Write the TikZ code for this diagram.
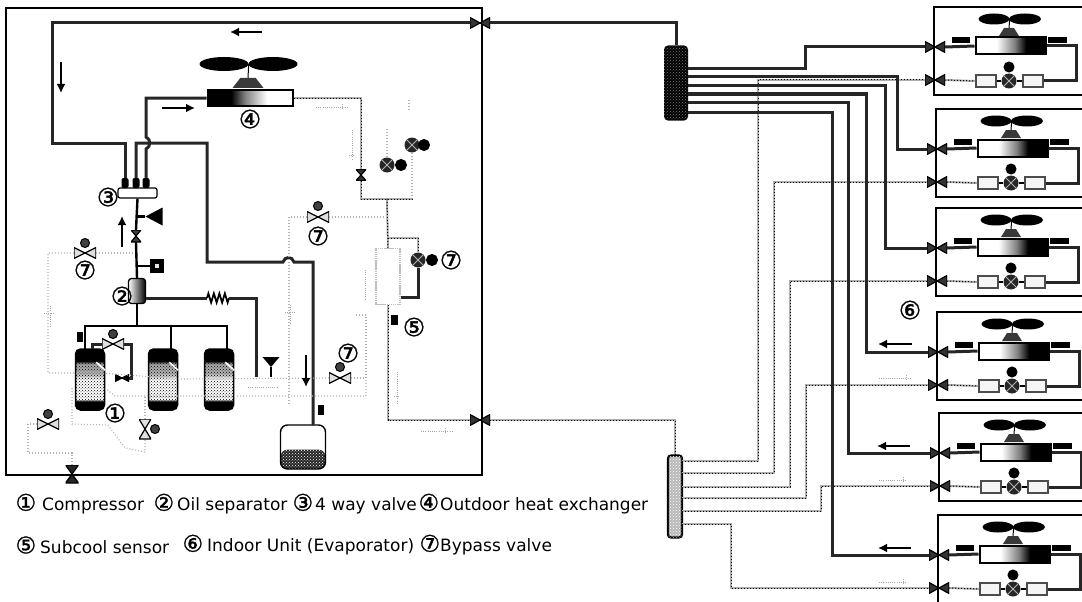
\documentclass[tikz,border=0pt]{standalone}
\usepackage{fontspec}
\setmainfont{DejaVu Sans}
\newfontfamily\cnumfont[FakeBold=1.2]{DejaVu Sans}
\usepackage{xcolor}
\usepackage{tikz}
\usetikzlibrary{positioning, calc, arrows.meta, shapes.geometric, patterns, decorations.pathmorphing}
\pgfdeclarehorizontalshading{hxshade}{100bp}{color(0bp)=(black); color(39bp)=(black); color(47bp)=(gray); color(60bp)=(white); color(100bp)=(white)}
\pgfdeclareverticalshading{compshade}{100bp}{color(0bp)=(black); color(32bp)=(black); color(34bp)=(white); color(50bp)=(white); color(55bp)=(gray!60); color(63bp)=(gray!70); color(65bp)=(black); color(100bp)=(black)}
\newcommand{\legnum}[2]{\llap{{\cnumfont\fontsize{23}{17}\selectfont #1}\hspace{#2}}}
\tikzset{
  gaspipe/.style={draw=black!85, line width=3pt},
  liqpipe/.style={draw=gray!65, line width=2pt, postaction={draw=black, line width=1pt, dash pattern=on 1pt off 2pt}},
  ltpipe/.style={draw=gray!60, line width=1.1pt, dash pattern=on 1pt off 2pt},
  flowarrow/.style={-{Latex[length=9pt,width=9pt]}, draw=black, line width=2pt},
  ghostflow/.style={draw=gray!70, line width=0.9pt, dash pattern=on 1pt off 1.2pt},
  bowtie/.style={minimum width=20, minimum height=11, inner sep=0, path picture={
    \filldraw[draw=black, line width=1.2pt, fill=#1] (path picture bounding box.south west) -- (path picture bounding box.north east) -- (path picture bounding box.south east) -- (path picture bounding box.north west) -- cycle;}},
  hourglass/.style={inner sep=0, path picture={
    \filldraw[draw=black, line width=1.2pt, fill=#1] (path picture bounding box.south west) -- (path picture bounding box.south east) -- (path picture bounding box.north west) -- (path picture bounding box.north east) -- cycle;}},
  vhead/.style={circle, draw=black, fill=gray!50!black, minimum size=9, inner sep=0, line width=1pt},
  expv/.style={circle, fill=black!85, minimum size=15, inner sep=0, path picture={
    \draw[gray!60, line width=1pt] (path picture bounding box.south west) -- (path picture bounding box.north east) (path picture bounding box.south east) -- (path picture bounding box.north west);}},
  blade/.style={ellipse, fill=black, inner sep=0},
  fanhub/.style={inner sep=0, path picture={
    \fill[gray!45!black] (path picture bounding box.south west) -- ($(path picture bounding box.north west)!0.25!(path picture bounding box.north east)$) -- ($(path picture bounding box.north west)!0.75!(path picture bounding box.north east)$) -- (path picture bounding box.south east) -- cycle;}},
  hxbox/.style={draw=black, line width=2pt, shading=hxshade, inner sep=0},
  sensorbar/.style={fill=black, inner sep=0},
  orifice/.style={draw=gray!60!black, fill=gray!8, line width=1.2pt, minimum width=20, minimum height=12, inner sep=0},
  compbox/.style={draw=black, line width=1.5pt, rounded corners=5pt, shading=compshade, minimum width=29, minimum height=61, inner sep=0, postaction={pattern=crosshatch dots, pattern color=black}},
  numlab/.style={inner sep=0, font=\cnumfont\fontsize{25}{25}\selectfont},
  legend/.style={inner sep=0, anchor=west, font=\fontsize{17}{17}\selectfont},
  indoorunit/.pic={
    \node[draw=black, line width=1.6pt, minimum width=170, minimum height=88, inner sep=0, anchor=north west] (-box) at (0,0) {};
    \node[bowtie=gray!40!black] (-gasv) at (2,41) {};
    \node[bowtie=gray!40!black] (-liqv) at (2,74) {};
    \node[blade, minimum width=31, minimum height=11] (-bladel) at (61,13) {};
    \node[blade, minimum width=32, minimum height=11] (-blader) at (92,13) {};
    \node[fanhub, minimum width=20, minimum height=8] (-hub) at (76,26) {};
    \node[hxbox, minimum width=70, minimum height=17, shading angle=180] (-hx) at (77.5,40) {};
    \node[sensorbar, minimum width=18, minimum height=6] (-barl) at (28,34) {};
    \node[sensorbar, minimum width=19, minimum height=6] (-barr) at (124.5,34) {};
    \node[orifice] (-orl) at (53,75) {};
    \node[orifice] (-orr) at (100,75) {};
    \node[expv] (-ev) at (76,75) {};
    \node[vhead, fill=black, minimum size=10] (-evh) at (76,61) {};
    \coordinate (-bendt) at (143,40);
    \coordinate (-bendb) at (143,75);
    \draw[black, line width=1pt] (-bladel.east) -- (-hub.north);
    \draw[gaspipe] (-gasv.east) -- (-hx.west);
    \draw[gaspipe] (-hx.east) -- (-bendt) -- (-bendb) -- (-orr.east);
    \draw[liqpipe] (-liqv.east) -- (-orl.west);
    \draw[black, line width=1.5pt] (-orl.east) -- (-ev.west) (-ev.east) -- (-orr.west);
  }
}
\begin{document}
\begin{tikzpicture}[x=1pt, y=-1pt, every node/.style={font=\small}]
  \useasboundingbox (0,0) rectangle (1082,602);
  \node[draw=black, line width=1.7pt, minimum width=476, minimum height=467, inner sep=0] (odu) at (244,241.5) {};

  \pic (iuA) at (933,6) {indoorunit};
  \pic (iuB) at (935,108) {indoorunit};
  \pic (iuC) at (935,207) {indoorunit};
  \pic (iuD) at (936,311) {indoorunit};
  \pic (iuE) at (938,412) {indoorunit};
  \pic (iuF) at (937,514) {indoorunit};

  \node[blade, minimum width=49, minimum height=14] (fanl) at (224,64) {};
  \node[blade, minimum width=49, minimum height=14] (fanr) at (273,64) {};
  \node[fanhub, minimum width=31, minimum height=10] (fanhb) at (248,83) {};
  \node[hxbox, minimum width=85, minimum height=15] (odhx) at (250,98) {};
  \node[draw=black, fill=white, line width=1.2pt, rounded corners=2pt, minimum width=39, minimum height=10, inner sep=0] (fourway) at (137.5,193) {};
  \node[fill=black, rounded corners=2pt, minimum width=7, minimum height=10, inner sep=0] (portl) at (125,183) {};
  \node[fill=black, rounded corners=2pt, minimum width=7, minimum height=10, inner sep=0] (portm) at (136,183) {};
  \node[fill=black, rounded corners=2pt, minimum width=7, minimum height=10, inner sep=0] (portr) at (146,183) {};
  \node[draw=black, line width=1.3pt, rounded corners=3pt, left color=white, right color=black, minimum width=17, minimum height=25, inner sep=0] (oilsep) at (137,291) {};
  \node[minimum width=17, minimum height=18, inner sep=0, path picture={\fill[black] (path picture bounding box.north east) -- (path picture bounding box.west) -- (path picture bounding box.south east) -- cycle;}] (horn) at (154,216.5) {};
  \node[fill=black, minimum size=14, inner sep=0] (accsq) at (157,266) {};
  \node[fill=gray!20, minimum size=4, inner sep=0] (accsqin) at (157,266) {};
  \node[hourglass=black!75, minimum width=10, minimum height=12] (stemv) at (136,236) {};

  \node[compbox] (compa) at (90,379.5) {};
  \node[compbox] (compb) at (163,379.5) {};
  \node[compbox] (compc) at (219,379.5) {};
  \node[draw=black, line width=1.4pt, rounded corners=7pt, minimum width=45, minimum height=44, inner sep=0, path picture={\fill[black!85] (path picture bounding box.south west) rectangle ($(path picture bounding box.south east)!0.44!(path picture bounding box.north east)$);\pattern[pattern=crosshatch dots, pattern color=white] (path picture bounding box.south west) rectangle ($(path picture bounding box.south east)!0.44!(path picture bounding box.north east)$);}] (recv) at (303,447) {};
  \node[sensorbar, minimum width=6, minimum height=10] (senscomp) at (80,337) {};
  \node[sensorbar, minimum width=6, minimum height=10] (sensrecv) at (321,410) {};
  \node[sensorbar, minimum width=7, minimum height=10] (senssub) at (394,320) {};
  \node[draw=gray!50, line width=1.5pt, dash pattern=on 1.5pt off 0.6pt, minimum width=24, minimum height=56, inner sep=0] (subcool) at (388,276.5) {};
  \node[minimum width=17, minimum height=10, inner sep=0, path picture={\fill[black] (path picture bounding box.north west) -- (path picture bounding box.north east) -- (path picture bounding box.south) -- cycle;}] (filt) at (271,362) {};

  \node[bowtie=gray!40!black] (vgas) at (480,23) {};
  \node[bowtie=gray!40!black] (vliq) at (480,420) {};
  \node[hourglass=black!85, minimum width=13, minimum height=18] (vbot) at (72,474) {};
  \node[bowtie=gray!25, minimum width=22, minimum height=11] (vbya) at (85,253) {};
  \node[bowtie=gray!25, minimum width=22, minimum height=11] (vbyb) at (318,217) {};
  \node[bowtie=gray!25, minimum width=22, minimum height=11] (vbyc) at (340,378) {};
  \node[bowtie=gray!25, minimum width=22, minimum height=11] (vbyd) at (113,344) {};
  \node[bowtie=gray!25, minimum width=22, minimum height=11] (vbye) at (48,424) {};
  \node[hourglass=gray!25, minimum width=12, minimum height=20] (vbyf) at (145,429) {};
  \node[bowtie=black, minimum width=14, minimum height=7] (voil) at (122,378) {};
  \node[hourglass=gray!40!black, minimum width=10, minimum height=11] (vhx) at (361,175) {};
  \node[vhead] (hda) at (85,243) {};
  \node[vhead] (hdb) at (318,206) {};
  \node[vhead] (hdc) at (340,367) {};
  \node[vhead] (hdd) at (113,334) {};
  \node[vhead] (hde) at (48,414) {};
  \node[vhead] (hdf) at (155,429) {};
  \node[expv] (exa) at (412,145) {};
  \node[vhead, fill=black, minimum size=11] (exah) at (424,145) {};
  \node[expv] (exb) at (387,165) {};
  \node[vhead, fill=black, minimum size=11] (exbh) at (401,165) {};
  \node[expv] (exc) at (418,260) {};
  \node[vhead, fill=black, minimum size=11] (exch) at (432,260) {};

  \node[fill=black, rounded corners=4pt, minimum width=24, minimum height=75, inner sep=0, postaction={pattern=crosshatch dots, pattern color=gray}] (gashdr) at (676,83) {};
  \node[draw=black, line width=2.2pt, fill=gray!55, rounded corners=3pt, minimum width=14, minimum height=82, inner sep=0, postaction={pattern=crosshatch dots, pattern color=white}] (liqhdr) at (675,496.5) {};

  \coordinate (gha) at (688,69);
  \coordinate (ghb) at (688,77);
  \coordinate (ghc) at (688,86);
  \coordinate (ghd) at (688,94);
  \coordinate (ghe) at (688,102);
  \coordinate (ghf) at (688,112);
  \coordinate (lha) at (682,461);
  \coordinate (lhb) at (682,473);
  \coordinate (lhc) at (682,487);
  \coordinate (lhd) at (682,498);
  \coordinate (lhe) at (682,511);
  \coordinate (lhf) at (682,524);

  \draw[liqpipe] (lha) -- (758,461) |- (iuA-liqv.west);
  \draw[liqpipe] (lhb) -- (774,473) |- (iuB-liqv.west);
  \draw[liqpipe] (lhc) -- (790,487) |- (iuC-liqv.west);
  \draw[liqpipe] (lhd) -- (806,498) |- (iuD-liqv.west);
  \draw[liqpipe] (lhe) -- (821,511) |- (iuE-liqv.west);
  \draw[liqpipe] (lhf) -- (731,524) |- (iuF-liqv.west);
  \draw[liqpipe] (vliq.east) -| (liqhdr.north);
  \draw[gaspipe] (gha) -- (805,69) |- (iuA-gasv.west);
  \draw[gaspipe] (ghb) -- (897,77) |- (iuB-gasv.west);
  \draw[gaspipe] (ghc) -- (885,86) |- (iuC-gasv.west);
  \draw[gaspipe] (ghd) -- (866,94) |- (iuD-gasv.west);
  \draw[gaspipe] (ghe) -- (848,102) |- (iuE-gasv.west);
  \draw[gaspipe] (ghf) -- (832,112) |- (iuF-gasv.west);
  \draw[gaspipe] (vgas.east) -| (gashdr.north);

  \draw[gaspipe] (vgas.west) -- (52,23) -- (52,143) -- (125,143) -- (portl.north);
  \draw[gaspipe] (portm.north) -- (136,143) -- (207,143) -- (207,262) -- (283,262) .. controls (285,256) and (292,256) .. (294,262) -- (313,262) -- (313,425);
  \draw[gaspipe] (odhx.west) -- (146,98) -- (146,137) .. controls (151,139) and (151,147) .. (146,149) -- (portr.north);
  \draw[black, line width=1pt] (fanl.east) -- (fanhb.north);
  \draw[black, line width=2.4pt] (fourway.south) -- (stemv.north);
  \draw[black, line width=2.4pt] (stemv.south) -- (oilsep.north);
  \coordinate (hornj) at (136,216.5);
  \coordinate (accj) at (136,266);
  \draw[black, line width=2.4pt] (hornj) -- (horn.west);
  \draw[black, line width=2.4pt] (accj) -- (accsq.west);
  \coordinate (resl) at (207,298);
  \coordinate (resr) at (229,298);
  \draw[gaspipe] (oilsep.east |- resl) -- (resl);
  \draw[black, line width=1.8pt, decorate, decoration={zigzag, amplitude=4.5pt, segment length=5.5pt}] (resl) -- (resr);
  \draw[gaspipe] (resr) -- (256,298) -- (256,377);
  \draw[black, line width=2pt] (filt.south) -- ++(0,10);
  \coordinate (hdrj) at (137,326);
  \draw[black, line width=2.4pt] (oilsep.south) -- (hdrj);
  \draw[black, line width=2.4pt] (85,349) -- (85,326) -- (227,326) -- (227,349);
  \draw[black, line width=2.4pt] (171,326) -- (171,349);
  \draw[gaspipe] (92,349) -- (92,344) -- (vbyd.west);
  \draw[gaspipe] (vbyd.east) -- (131,344) |- (voil.east);
  \draw[gaspipe] (exc.south) -- (418,297) -- (subcool.east |- 0,297);

  \draw[white, line width=1.5pt] (compa.north east) ++(-9,14) -- ++(9,8);
  \draw[white, line width=1.5pt] (compb.north east) ++(-9,14) -- ++(9,8);
  \draw[white, line width=1.5pt] (compc.north east) ++(-9,14) -- ++(9,8);

  \draw[liqpipe] (odhx.east) -- (361,98) -- (vhx.north);
  \draw[liqpipe] (vhx.south) -- (361,199) -- (412,199);
  \draw[ltpipe] (exa.south) -- (412,199);
  \draw[ltpipe] (exb.north) -- (387,128);
  \draw[ltpipe] (409,100) -- (409,110);
  \draw[liqpipe] (387,199) -- (subcool.north);
  \draw[liqpipe] (388,238) -- (418,238) -- (exc.north);
  \draw[liqpipe] (subcool.south) -- (388,420) -- (vliq.west);
  \draw[ltpipe] (vbyb.east) -- (386,217);
  \draw[ltpipe] (vbyb.west) -- (289,217) -- (289,405);
  \draw[ltpipe] (vbya.east) -- (135,253);
  \draw[ltpipe] (vbya.west) -- (48,253) -- (48,373) -- (100,373) -- (180,379) -- (vbyc.west);
  \draw[ltpipe] (vbyc.east) -- (366,378) -- (366,315) -- (356,315);
  \draw[ltpipe] (105,388) -- (115,396) -- (366,396) -- (366,378);
  \draw[ltpipe] (72,388) -- (72,424) -- (108,425) -- (125,448) -- (145,452) -- (vbyf.south);
  \draw[ltpipe] (vbyf.north) -- (145,396);
  \draw[ltpipe] (vbye.west) -- (28,424) -- (28,453) -- (72,453) -- (vbot.north);

  \coordinate (arAs) at (262,32);
  \coordinate (arAe) at (230,32);
  \coordinate (arBs) at (61,62);
  \coordinate (arBe) at (61,93);
  \coordinate (arCs) at (162,108);
  \coordinate (arCe) at (195,108);
  \coordinate (arDs) at (122,247);
  \coordinate (arDe) at (122,216);
  \coordinate (arEs) at (306,355);
  \coordinate (arEe) at (306,387);
  \coordinate (arGs) at (912,344);
  \coordinate (arGe) at (878,344);
  \coordinate (arHs) at (910,446);
  \coordinate (arHe) at (877,446);
  \coordinate (arIs) at (911,548);
  \coordinate (arIe) at (878,548);
  \draw[flowarrow] (arAs) -- (arAe);
  \draw[flowarrow] (arBs) -- (arBe);
  \draw[flowarrow] (arCs) -- (arCe);
  \draw[flowarrow] (arDs) -- (arDe);
  \draw[flowarrow] (arEs) -- (arEe);
  \draw[flowarrow] (arGs) -- (arGe);
  \draw[flowarrow] (arHs) -- (arHe);
  \draw[flowarrow] (arIs) -- (arIe);
  \draw[ghostflow] (316,107) -- (349,107) (342,104) -- (342,110);
  \draw[ghostflow] (352,130) -- (352,160) (349,155) -- (355,155);
  \draw[ghostflow] (421,431) -- (453,431) (445,428) -- (445,434);
  \draw[ghostflow] (397,372) -- (397,403) (394,396) -- (400,396);
  \draw[ghostflow] (248,387) -- (277,387);
  \draw[ghostflow] (285,312) -- (295,312) (290,305) -- (290,323);
  \draw[ghostflow] (44,313) -- (55,313) (50,306) -- (50,326);
  \draw[ghostflow] (365,270) -- (365,300);
  \draw[ghostflow] (879,378) -- (912,378) (906,375) -- (906,381);
  \draw[ghostflow] (879,480) -- (907,480) (903,477) -- (903,483);
  \draw[ghostflow] (879,582) -- (907,582) (903,579) -- (903,585);

  \node[numlab] (lbla) at (115,413) {①};
  \node[numlab] (lblb) at (122,296) {②};
  \node[numlab] (lblc) at (108,197) {③};
  \node[numlab] (lbld) at (250,119) {④};
  \node[numlab] (lble) at (414,327) {⑤};
  \node[numlab] (lblf) at (910,310) {⑥};
  \node[numlab] (lblg) at (85,270) {⑦};
  \node[numlab] (lblh) at (318,236) {⑦};
  \node[numlab] (lbli) at (451,260) {⑦};
  \node[numlab] (lblj) at (348,353) {⑦};

  \node[legend] (lega) at (42,504) {\legnum{①}{6pt}Compressor};
  \node[legend] (legb) at (177,504) {\legnum{②}{3pt}Oil separator};
  \node[legend] (legc) at (315,504) {\legnum{③}{2pt}4 way valve};
  \node[legend] (legd) at (440,504) {\legnum{④}{1pt}Outdoor heat exchanger};
  \node[legend] (lege) at (40,545) {\legnum{⑤}{4pt}Subcool sensor};
  \node[legend] (legf) at (207,545) {\legnum{⑥}{4pt}Indoor Unit (Evaporator)};
  \node[legend] (legg) at (440,545) {\legnum{⑦}{0pt}Bypass valve};
\end{tikzpicture}
\end{document}
